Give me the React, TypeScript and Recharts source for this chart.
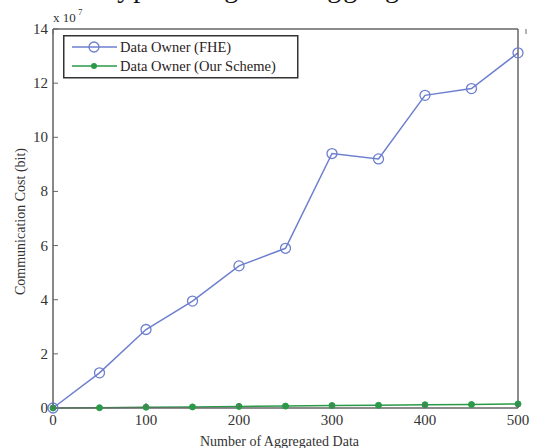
import React from 'react';
import { LineChart, Line, XAxis, YAxis } from 'recharts';

const aggregatedCounts = [0, 50, 100, 150, 200, 250, 300, 350, 400, 450, 500];
const fheCost = [0, 1.3, 2.9, 3.95, 5.25, 5.9, 9.4, 9.2, 11.55, 11.8, 13.12];
const ourSchemeCost = [0, 0.01, 0.03, 0.04, 0.06, 0.07, 0.09, 0.1, 0.12, 0.13, 0.15];
const xTicks = [0, 100, 200, 300, 400, 500];
const yTicks = [0, 2, 4, 6, 8, 10, 12, 14];
const seriesNames = ['Data Owner (FHE)', 'Data Owner (Our Scheme)'];

const data = aggregatedCounts.map((n, i) => ({
  n,
  fhe: fheCost[i],
  ours: ourSchemeCost[i],
}));

const FONT = '"Liberation Serif", "DejaVu Serif", serif';
const FHE_COLOR = '#6d7fcf';
const OURS_COLOR = '#2a9a48';
const AXIS_COLOR = '#666';
const TEXT_COLOR = '#333';

const LeftTick = (props: any) => {
  const { x, y, payload } = props;
  return (
    <g>
      <line x1={x} x2={x + 5} y1={y} y2={y} stroke={AXIS_COLOR} strokeWidth={1} />
      <text x={x - 5} y={y} dy={5} textAnchor="end" fontFamily={FONT} fontSize={15} fill={TEXT_COLOR}>
        {payload.value}
      </text>
    </g>
  );
};

const RightTick = (props: any) => {
  const { x, y } = props;
  return <line x1={x} x2={x - 5} y1={y} y2={y} stroke={AXIS_COLOR} strokeWidth={1} />;
};

const BottomTick = (props: any) => {
  const { x, y, payload } = props;
  return (
    <g>
      <line x1={x} x2={x} y1={y} y2={y - 5} stroke={AXIS_COLOR} strokeWidth={1} />
      <text x={x} y={y} dy={17} textAnchor="middle" fontFamily={FONT} fontSize={15} fill={TEXT_COLOR}>
        {payload.value}
      </text>
    </g>
  );
};

const TopTick = (props: any) => {
  const { x, y } = props;
  return <line x1={x} x2={x} y1={y} y2={y + 5} stroke={AXIS_COLOR} strokeWidth={1} />;
};

const HollowDot = (props: any) => {
  const { cx, cy, index } = props;
  if (cx == null || cy == null) return <g key={index} />;
  return <circle key={index} cx={cx} cy={cy} r={5} fill="none" stroke={FHE_COLOR} strokeWidth={1.3} />;
};

const FilledDot = (props: any) => {
  const { cx, cy, index } = props;
  if (cx == null || cy == null) return <g key={index} />;
  return <circle key={index} cx={cx} cy={cy} r={3} fill={OURS_COLOR} stroke={OURS_COLOR} strokeWidth={1} />;
};

const LegendBox = () => (
  <svg
    width={236}
    height={44}
    style={{ position: 'absolute', left: 63, top: 35, overflow: 'visible' }}
  >
    <rect x={0.75} y={0.75} width={234} height={42} fill="white" stroke="#333" strokeWidth={1.5} />
    <line x1={9} x2={54} y1={12} y2={12} stroke={FHE_COLOR} strokeWidth={1.5} />
    <circle cx={31} cy={12} r={5} fill="none" stroke={FHE_COLOR} strokeWidth={1.3} />
    <text x={57} y={17} fontFamily={FONT} fontSize={14.5} fill="#2a2222">{seriesNames[0]}</text>
    <line x1={9} x2={54} y1={31} y2={31} stroke={OURS_COLOR} strokeWidth={1.5} />
    <circle cx={31} cy={31} r={3} fill={OURS_COLOR} />
    <text x={57} y={36} fontFamily={FONT} fontSize={14.5} fill="#2a2222">{seriesNames[1]}</text>
  </svg>
);

export default function App() {
  return (
    <div style={{ position: 'absolute', left: 0, top: 0, width: 538, height: 448, background: 'white', overflow: 'hidden' }}>
      <div
        style={{
          position: 'absolute',
          left: 61,
          top: -28,
          fontFamily: FONT,
          fontSize: 28,
          lineHeight: '32px',
          letterSpacing: 2,
          color: '#111',
          whiteSpace: 'nowrap',
        }}
      >
        encrypted big data aggregation
      </div>
      <LineChart
        width={538}
        height={448}
        data={data}
        margin={{ top: 0, right: 0, bottom: 0, left: 0 }}
      >
        <XAxis
          dataKey="n"
          type="number"
          domain={[0, 500]}
          ticks={xTicks}
          tickSize={0}
          tickMargin={0}
          tickLine={false}
          tick={<BottomTick />}
          height={40}
          axisLine={{ stroke: AXIS_COLOR, strokeWidth: 1.5 }}
          label={{
            value: 'Number of Aggregated Data',
            position: 'insideBottom',
            offset: 2,
            dx: -6,
            style: { fontFamily: FONT, fontSize: 14, fill: TEXT_COLOR },
          }}
        />
        <XAxis
          xAxisId="top"
          orientation="top"
          type="number"
          domain={[0, 500]}
          ticks={xTicks}
          tickSize={0}
          tickMargin={0}
          tickLine={false}
          tick={<TopTick />}
          height={29}
          axisLine={{ stroke: AXIS_COLOR, strokeWidth: 1.5 }}
        />
        <YAxis
          type="number"
          domain={[0, 14]}
          ticks={yTicks}
          tickSize={0}
          tickMargin={0}
          tickLine={false}
          tick={<LeftTick />}
          width={53}
          axisLine={{ stroke: '#888', strokeWidth: 2 }}
          label={{
            value: 'Communication Cost (bit)',
            angle: -90,
            position: 'insideLeft',
            offset: 20,
            dy: 3,
            style: { fontFamily: FONT, fontSize: 14, fill: TEXT_COLOR, textAnchor: 'middle' },
          }}
        />
        <YAxis
          yAxisId="right"
          orientation="right"
          type="number"
          domain={[0, 14]}
          ticks={yTicks}
          tickSize={0}
          tickMargin={0}
          tickLine={false}
          tick={<RightTick />}
          width={20}
          axisLine={{ stroke: AXIS_COLOR, strokeWidth: 1.5 }}
        />
        <Line
          type="linear"
          dataKey="ours"
          name={seriesNames[1]}
          stroke={OURS_COLOR}
          strokeWidth={1.5}
          dot={<FilledDot />}
          activeDot={false}
          isAnimationActive={false}
        />
        <Line
          type="linear"
          dataKey="fhe"
          name={seriesNames[0]}
          stroke={FHE_COLOR}
          strokeWidth={1.5}
          dot={<HollowDot />}
          activeDot={false}
          isAnimationActive={false}
        />
      </LineChart>
      <LegendBox />
      <svg width={60} height={28} style={{ position: 'absolute', left: 50, top: 2 }}>
        <text x={3} y={20} fontFamily={FONT} fontSize={13} fill={TEXT_COLOR}>x 10</text>
        <text x={28} y={13} fontFamily={FONT} fontSize={9} fill={TEXT_COLOR}>7</text>
      </svg>
    </div>
  );
}
